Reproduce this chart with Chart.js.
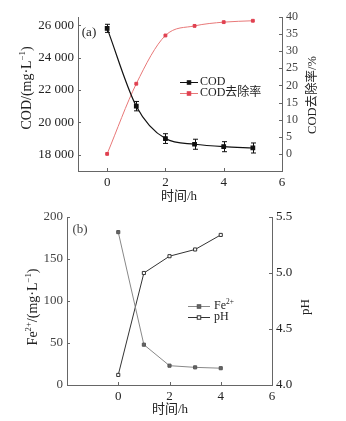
<!DOCTYPE html>
<html>
<head>
<meta charset="utf-8">
<script src="https://cdn.jsdelivr.net/npm/chart.js@4.4.0/dist/chart.umd.min.js"></script>
<style>
  body { margin: 0; background: #fff; width: 346px; height: 421px; position: relative; overflow: hidden; }
  canvas { position: absolute; left: 0; }
  #graficaCOD { top: 0; }
  #graficaHierro { top: 200px; }
</style>
</head>
<body>
<canvas id="graficaCOD" width="346" height="206"></canvas>
<canvas id="graficaHierro" width="346" height="221"></canvas>
<script>
// (a) COD y tasa de remoción
const tiemposCOD = [0, 1, 2, 3, 4, 5];
const valoresCOD = [25800, 21000, 19000, 18650, 18500, 18420];
const erroresCOD = [250, 290, 300, 310, 310, 310];
const remocionCOD = [0, 20.5, 34.6, 37.4, 38.5, 38.9];

// (b) Fe2+ y pH
const tiemposHierro = [0, 1, 2, 3, 4];
const valoresHierro = [182, 48, 23, 21, 20];
const valoresPH = [4.09, 5.0, 5.15, 5.21, 5.34];

const ticksX = [0, 2, 4, 6];
const ticksCOD = [18000, 20000, 22000, 24000, 26000];
const ticksRemocion = [0, 5, 10, 15, 20, 25, 30, 35, 40];
const ticksHierro = [0, 50, 100, 150, 200];
const ticksPH = [4.0, 4.5, 5.0, 5.5];

const SERIF = "'Liberation Serif', 'Noto Sans CJK SC', serif";
const GRIS_EJE = '#666';

function puntos(xs, ys) {
    return xs.map((x, i) => ({ x: x, y: ys[i] }));
}

// fija el ancho/alto de cada eje para que el área de trazado quede donde debe
function tamanoFijo(valor) {
    return function(escala) {
        if (escala.isHorizontal()) {
            escala.height = valor;
        } else {
            escala.width = valor;
        }
        escala.paddingTop = 0;
        escala.paddingBottom = 0;
        escala.paddingLeft = 0;
        escala.paddingRight = 0;
    };
}

function ticksFijos(lista) {
    return function(escala) {
        escala.ticks = lista.map(v => ({ value: v }));
    };
}

function ejeX(min, max, alto) {
    return {
        type: 'linear',
        min: min,
        max: max,
        afterBuildTicks: ticksFijos(ticksX),
        afterFit: tamanoFijo(alto),
        grid: { display: false, drawTicks: false },
        border: { color: GRIS_EJE, width: 1 },
        ticks: { color: '#222', padding: 4, font: { family: SERIF, size: 13 } }
    };
}

function ejeY(posicion, min, max, lista, ancho, formato, color, tamano) {
    return {
        type: 'linear',
        position: posicion,
        min: min,
        max: max,
        afterBuildTicks: ticksFijos(lista),
        afterFit: tamanoFijo(ancho),
        grid: { display: false, drawTicks: false },
        border: { color: GRIS_EJE, width: 1 },
        ticks: { color: color, padding: 4, font: { family: SERIF, size: tamano }, callback: formato }
    };
}

// marcas cortas hacia dentro del área de trazado
function dibujarMarcas(chart) {
    const { ctx, chartArea } = chart;
    ctx.save();
    ctx.strokeStyle = GRIS_EJE;
    ctx.lineWidth = 1;
    for (const escala of Object.values(chart.scales)) {
        for (const t of escala.ticks) {
            const p = Math.round(escala.getPixelForValue(t.value)) + 0.5;
            ctx.beginPath();
            if (escala.isHorizontal()) {
                ctx.moveTo(p, chartArea.bottom);
                ctx.lineTo(p, chartArea.bottom - 3);
            } else if (escala.position === 'left') {
                ctx.moveTo(chartArea.left, p);
                ctx.lineTo(chartArea.left + 3, p);
            } else {
                ctx.moveTo(chartArea.right, p);
                ctx.lineTo(chartArea.right - 3, p);
            }
            ctx.stroke();
        }
    }
    ctx.restore();
}

// texto por tramos; los tramos con sup van más pequeños y elevados
function texto(ctx, partes, x, y, tamano, color, alinear, girar) {
    if (typeof partes === 'string') partes = [{ t: partes }];
    ctx.save();
    ctx.translate(x, y);
    if (girar) ctx.rotate(-Math.PI / 2);
    ctx.fillStyle = color;
    ctx.textBaseline = 'middle';
    ctx.textAlign = 'left';
    const fuente = p => `${p.sup ? tamano * 0.62 : tamano}px ${SERIF}`;
    let total = 0;
    for (const p of partes) {
        ctx.font = fuente(p);
        total += ctx.measureText(p.t).width;
    }
    let cx = alinear === 'left' ? 0 : -total / 2;
    for (const p of partes) {
        ctx.font = fuente(p);
        ctx.fillText(p.t, cx, p.sup ? -tamano * 0.32 : 0);
        cx += ctx.measureText(p.t).width;
    }
    ctx.restore();
}

function marcador(ctx, x, y, lado, relleno, borde) {
    ctx.save();
    ctx.fillStyle = relleno;
    ctx.strokeStyle = borde;
    ctx.lineWidth = 1;
    ctx.fillRect(x - lado / 2, y - lado / 2, lado, lado);
    ctx.strokeRect(x - lado / 2, y - lado / 2, lado, lado);
    ctx.restore();
}

function entradaLeyenda(ctx, y, x0, x1, colorLinea, relleno, borde, etiqueta, xTexto) {
    ctx.save();
    ctx.strokeStyle = colorLinea;
    ctx.lineWidth = 1;
    ctx.beginPath();
    ctx.moveTo(x0, y + 0.5);
    ctx.lineTo(x1, y + 0.5);
    ctx.stroke();
    ctx.restore();
    marcador(ctx, (x0 + x1) / 2, y + 0.5, 3.5, relleno, borde);
    texto(ctx, etiqueta, xTexto, y, 12, '#222', 'left');
}

const decorarCOD = {
    id: 'decorarCOD',
    beforeDatasetsDraw(chart) {
        // barras de error de la COD
        const { ctx } = chart;
        const x = chart.scales.x;
        const y = chart.scales.yCOD;
        ctx.save();
        ctx.strokeStyle = '#111';
        ctx.lineWidth = 1;
        tiemposCOD.forEach((t, i) => {
            const px = Math.round(x.getPixelForValue(t)) + 0.5;
            const arriba = y.getPixelForValue(valoresCOD[i] + erroresCOD[i]);
            const abajo = y.getPixelForValue(valoresCOD[i] - erroresCOD[i]);
            ctx.beginPath();
            ctx.moveTo(px, arriba);
            ctx.lineTo(px, abajo);
            ctx.moveTo(px - 2.5, arriba);
            ctx.lineTo(px + 2.5, arriba);
            ctx.moveTo(px - 2.5, abajo);
            ctx.lineTo(px + 2.5, abajo);
            ctx.stroke();
        });
        ctx.restore();
    },
    afterDraw(chart) {
        const { ctx } = chart;
        dibujarMarcas(chart);
        texto(ctx, '(a)', 89, 33, 13, '#222');
        texto(ctx, [{ t: 'COD/(mg·L' }, { t: '−1', sup: true }, { t: ')' }], 27, 88, 14, '#222', 'center', true);
        texto(ctx, 'COD去除率/%', 313, 95, 12.5, '#222', 'center', true);
        texto(ctx, '时间/h', 179, 197, 13, '#222');
        entradaLeyenda(ctx, 82, 180, 198, '#111', '#111', '#111', 'COD', 200);
        entradaLeyenda(ctx, 93, 180, 198, '#e87878', '#e04050', '#e04050', 'COD去除率', 200);
    }
};

const decorarHierro = {
    id: 'decorarHierro',
    afterDraw(chart) {
        const { ctx } = chart;
        dibujarMarcas(chart);
        texto(ctx, '(b)', 80, 30, 13, '#444');
        texto(ctx, [{ t: 'Fe' }, { t: '2+', sup: true }, { t: '/(mg·L' }, { t: '−1', sup: true }, { t: ')' }], 33, 107, 14, '#222', 'center', true);
        texto(ctx, 'pH', 306, 107, 13, '#222', 'center', true);
        texto(ctx, '时间/h', 170, 210, 13, '#222');
        entradaLeyenda(ctx, 106, 188, 210, '#888', '#666', '#555', [{ t: 'Fe' }, { t: '2+', sup: true }], 214);
        entradaLeyenda(ctx, 117, 188, 210, '#333', '#fff', '#333', 'pH', 214);
    }
};

const miles = v => String(v).replace(/(\d+)(\d{3})$/, '$1 $2');

new Chart(document.getElementById('graficaCOD'), {
    type: 'line',
    data: {
        datasets: [
            {
                label: 'COD',
                data: puntos(tiemposCOD, valoresCOD),
                yAxisID: 'yCOD',
                borderColor: '#111',
                borderWidth: 1.2,
                backgroundColor: '#111',
                pointStyle: 'rect',
                pointRadius: 2.5,
                cubicInterpolationMode: 'monotone'
            },
            {
                label: 'COD去除率',
                data: puntos(tiemposCOD, remocionCOD),
                yAxisID: 'yRemocion',
                borderColor: '#e87878',
                borderWidth: 1,
                backgroundColor: '#e04050',
                pointBorderColor: '#e04050',
                pointStyle: 'rect',
                pointRadius: 2,
                cubicInterpolationMode: 'monotone'
            }
        ]
    },
    options: {
        responsive: false,
        animation: false,
        layout: { padding: { top: 17, left: 0, right: 0, bottom: 0 } },
        plugins: { legend: { display: false }, tooltip: { enabled: false } },
        scales: {
            x: ejeX(-1, 6, 35),
            yCOD: ejeY('left', 17000, 26500, ticksCOD, 78, miles, '#222', 13),
            yRemocion: ejeY('right', -5, 40, ticksRemocion, 64, v => v, '#444', 12)
        }
    },
    plugins: [decorarCOD]
});

new Chart(document.getElementById('graficaHierro'), {
    type: 'line',
    data: {
        datasets: [
            {
                label: 'Fe²⁺',
                data: puntos(tiemposHierro, valoresHierro),
                yAxisID: 'yHierro',
                borderColor: '#888',
                borderWidth: 1,
                backgroundColor: '#666',
                pointBorderColor: '#555',
                pointStyle: 'rect',
                pointRadius: 2.2,
                tension: 0
            },
            {
                label: 'pH',
                data: puntos(tiemposHierro, valoresPH),
                yAxisID: 'yPH',
                borderColor: '#333',
                borderWidth: 1,
                backgroundColor: '#fff',
                pointBorderColor: '#333',
                pointStyle: 'rect',
                pointRadius: 2.2,
                tension: 0
            }
        ]
    },
    options: {
        responsive: false,
        animation: false,
        layout: { padding: { top: 17, left: 0, right: 0, bottom: 0 } },
        plugins: { legend: { display: false }, tooltip: { enabled: false } },
        scales: {
            x: ejeX(-2, 6, 36),
            yHierro: ejeY('left', 0, 200, ticksHierro, 67, v => v, '#444', 13),
            yPH: ejeY('right', 4.0, 5.5, ticksPH, 74, v => v.toFixed(1), '#222', 13)
        }
    },
    plugins: [decorarHierro]
});
</script>
</body>
</html>
